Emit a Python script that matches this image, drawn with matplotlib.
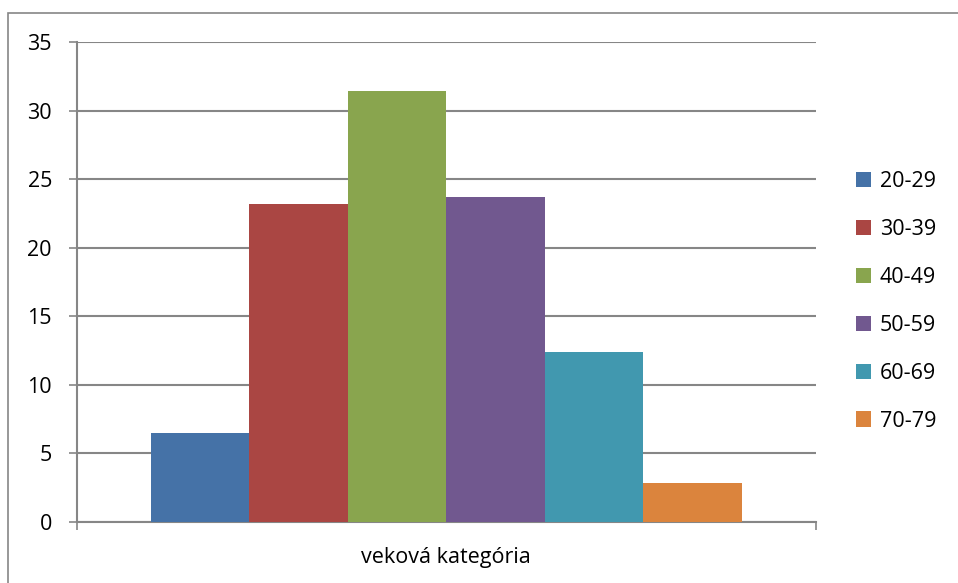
import matplotlib
matplotlib.use("Agg")
import matplotlib.pyplot as plt
from matplotlib.patches import Patch, Rectangle

# data
age_groups = ["20-29", "30-39", "40-49", "50-59", "60-69", "70-79"]
shares = [6.5, 23.2, 31.4, 23.7, 12.4, 2.8]
category = "veková kategória"
colors = ["#4572A7", "#AA4643", "#89A54E", "#71588F", "#4198AF", "#DB843D"]

plt.rcParams["font.family"] = ["Open Sans", "DejaVu Sans"]
GRAY = "#868686"
FS = 15.5

fig = plt.figure(figsize=(9.58, 5.83), dpi=100)
ax = fig.add_axes([77 / 958, 1 - 521.7 / 583, (815.7 - 77) / 958, (521.7 - 42) / 583])

# outer chart border (right/bottom edges fall outside the picture)
fig.patches.append(Rectangle((8 / 958, -0.05), 1.1, 1 - 13 / 583 + 0.05,
                             transform=fig.transFigure, fill=False,
                             edgecolor=GRAY, linewidth=1.2))

n = len(shares)
w = 1.0 / (n + 1.5)
for i, (lab, v, c) in enumerate(zip(age_groups, shares, colors)):
    ax.bar((i - (n - 1) / 2) * w, v, width=w, color=c, label=lab, zorder=3)

ax.set_xlim(-0.5, 0.5)
ax.set_ylim(0, 35)
ax.set_yticks(range(0, 36, 5))
ax.yaxis.grid(True, color=GRAY, linewidth=1.5, zorder=0)
ax.set_axisbelow(True)
ax.tick_params(axis="y", length=6, width=1.2, color=GRAY, pad=12, labelsize=FS)
ax.set_xticks([-0.5, 0.5], ["", ""])
ax.tick_params(axis="x", length=6, width=1.2, color=GRAY)
ax.set_xlabel(category, fontsize=FS, labelpad=9)

for s in ("top", "right"):
    ax.spines[s].set_visible(False)
for s in ("left", "bottom"):
    ax.spines[s].set_color(GRAY)
    ax.spines[s].set_linewidth(1.5)

handles = [Patch(facecolor=c, edgecolor="none") for c in colors]
fig.legend(handles, age_groups, loc="upper left",
           bbox_to_anchor=(856 / 958, 1 - 171 / 583), frameon=False,
           fontsize=FS, handlelength=0.7, handleheight=0.7,
           handletextpad=0.4, labelspacing=1.25, borderpad=0, borderaxespad=0)

fig.savefig("out.png", dpi=100, facecolor="white")
